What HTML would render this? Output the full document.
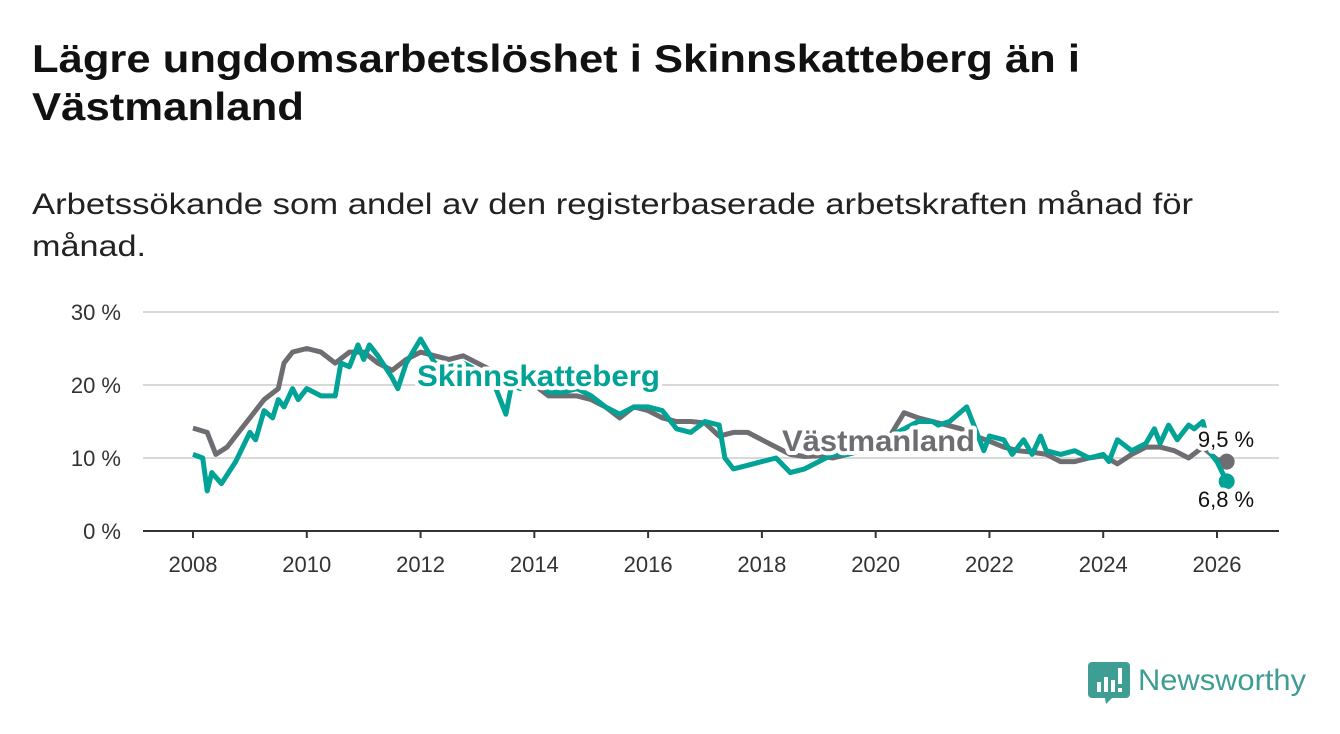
<!DOCTYPE html>
<html><head><meta charset="utf-8"><style>
html,body{margin:0;padding:0;background:#fff;}
svg{display:block;font-family:"Liberation Sans",sans-serif;}
.halo{paint-order:stroke;stroke:#fff;stroke-width:8px;stroke-linejoin:round;}
</style></head><body>
<svg id="chart" width="1340" height="734" viewBox="0 0 1340 734">
<text x="32" y="72" font-size="39" font-weight="bold" fill="#111" textLength="1048" lengthAdjust="spacingAndGlyphs">Lägre ungdomsarbetslöshet i Skinnskatteberg än i</text>
<text x="32" y="120" font-size="39" font-weight="bold" fill="#111" textLength="272" lengthAdjust="spacingAndGlyphs">Västmanland</text>
<text x="32" y="214" font-size="30" fill="#222" textLength="1161" lengthAdjust="spacingAndGlyphs">Arbetssökande som andel av den registerbaserade arbetskraften månad för</text>
<text x="32" y="256" font-size="30" fill="#222" textLength="114" lengthAdjust="spacingAndGlyphs">månad.</text>
<g id="grid"></g>
<g id="axes"></g>
<g id="series"></g>
<g id="labels"></g>
<g>
<path d="M1092 662 h34 a4 4 0 0 1 4 4 v28 a4 4 0 0 1 -4 4 h-14 l-6 6 l-1 -6 h-13 a4 4 0 0 1 -4 -4 v-28 a4 4 0 0 1 4 -4z" fill="#3e9e94"/>
<rect x="1097" y="682" width="4" height="10" fill="#fff"/><rect x="1104" y="677" width="4" height="15" fill="#fff"/><rect x="1111" y="680" width="4" height="12" fill="#fff"/><rect x="1118" y="668" width="4" height="16" fill="#fff"/><rect x="1118" y="688" width="4" height="4" fill="#fff"/>
<text x="1138" y="690" font-size="30" fill="#3e9e94" textLength="168" lengthAdjust="spacingAndGlyphs">Newsworthy</text>
</g>
</svg>
<script>
const yTicks=[0,10,20,30];
const yTickLabels=["0 %","10 %","20 %","30 %"];
const xTicks=[2008,2010,2012,2014,2016,2018,2020,2022,2024,2026];
const vastDates=[2008,2008.25,2008.4,2008.6,2008.8,2009,2009.25,2009.5,2009.6,2009.75,2010,2010.25,2010.5,2010.75,2011,2011.25,2011.5,2011.75,2012,2012.25,2012.5,2012.75,2013,2013.25,2013.5,2013.75,2014,2014.25,2014.5,2014.75,2015,2015.25,2015.5,2015.75,2016,2016.25,2016.5,2016.75,2017,2017.25,2017.5,2017.75,2018,2018.25,2018.5,2018.75,2019,2019.25,2019.5,2019.75,2020,2020.25,2020.5,2020.75,2021,2021.25,2021.5,2021.75,2022,2022.25,2022.5,2022.75,2023,2023.25,2023.5,2023.75,2024,2024.25,2024.5,2024.75,2025,2025.25,2025.5,2025.75,2026,2026.17];
const vastValues=[14.1,13.5,10.5,11.5,13.5,15.5,18,19.5,23,24.5,25,24.5,23,24.5,24.5,23,22,23.5,24.5,24,23.5,24,23,22,21,20.5,20,18.5,18.5,18.5,18,17,15.5,17,16.5,15.5,15,15,14.8,13,13.5,13.5,12.5,11.5,10.5,10.2,10.3,10,10.5,11,12,13,16.2,15.5,15,14.5,14,13,12.3,11.5,11,10.8,10.5,9.5,9.5,10,10.3,9.2,10.5,11.5,11.5,11,10,11.5,9.8,9.5];
const skinDates=[2008,2008.17,2008.25,2008.33,2008.5,2008.75,2009,2009.1,2009.25,2009.4,2009.5,2009.6,2009.75,2009.85,2010,2010.25,2010.5,2010.6,2010.75,2010.9,2011,2011.1,2011.25,2011.5,2011.6,2011.75,2011.9,2012,2012.25,2012.5,2012.75,2013,2013.25,2013.5,2013.6,2013.75,2014,2014.25,2014.5,2014.75,2015,2015.25,2015.5,2015.75,2016,2016.25,2016.5,2016.75,2017,2017.25,2017.35,2017.5,2017.75,2018,2018.25,2018.5,2018.75,2019,2019.25,2019.5,2019.75,2020,2020.25,2020.5,2020.75,2021,2021.1,2021.3,2021.6,2021.9,2022,2022.25,2022.4,2022.6,2022.75,2022.9,2023,2023.25,2023.5,2023.75,2024,2024.1,2024.25,2024.5,2024.75,2024.9,2025,2025.15,2025.3,2025.5,2025.6,2025.75,2025.9,2026,2026.17];
const skinValues=[10.5,10,5.5,8,6.5,9.5,13.5,12.5,16.5,15.5,18,17,19.5,18,19.5,18.5,18.5,23,22.5,25.5,23.5,25.5,24,21,19.5,23,25,26.3,23,22.5,23,22,21,16,20,19.5,21,19,19,19.5,18.5,17,16,17,17,16.5,14,13.5,15,14.5,10,8.5,9,9.5,10,8,8.5,9.5,10.5,10.5,11,12,13,14,15,15,14.5,15,17,11,13,12.5,10.5,12.5,10.5,13,11,10.5,11,10,10.5,9.5,12.5,11,12,14,12,14.5,12.5,14.5,14,15,10.5,9.5,6.8];
const NS="http://www.w3.org/2000/svg";
const X0=193,X1=1217,Y0=531,Y30=312;
function xs(d){return X0+(d-2008)*(X1-X0)/18;}
function ys(v){return Y0-v*(Y0-Y30)/30;}
function mk(t,a,p){const e=document.createElementNS(NS,t);for(const k in a)e.setAttribute(k,a[k]);p.appendChild(e);return e;}
const grid=document.getElementById('grid'),axes=document.getElementById('axes'),ser=document.getElementById('series'),lab=document.getElementById('labels');
yTicks.forEach((v,i)=>{
 if(v>0){const l=mk('line',{x1:143,x2:1279,y1:ys(v),y2:ys(v),stroke:'#d9d9d9','stroke-width':2},grid);
 
 }
 const t=mk('text',{x:121,y:ys(v)+8,'font-size':22,fill:'#333','text-anchor':'end'},axes);t.textContent=yTickLabels[i];
 
 
});
const ax=mk('line',{x1:143,x2:1279,y1:Y0,y2:Y0,stroke:'#333','stroke-width':2},axes);


xTicks.forEach(d=>{
 mk('line',{x1:xs(d),x2:xs(d),y1:Y0,y2:Y0+7,stroke:'#333','stroke-width':2},axes);
 const t=mk('text',{x:xs(d),y:572,'font-size':22,fill:'#333','text-anchor':'middle'},axes);t.textContent=d;
 
 
});
function line(dates,vals,col,name){
 const p=mk('path',{d:dates.map((d,i)=>(i?'L':'M')+xs(d).toFixed(1)+' '+ys(vals[i]).toFixed(1)).join(''),fill:'none',stroke:col,'stroke-width':5,'stroke-linejoin':'round'},ser);
 
 
 const n=dates.length-1;
 const c=mk('circle',{cx:xs(dates[n]),cy:ys(vals[n]),r:8,fill:col},ser);
 
 
}
line(vastDates,vastValues,'#6e6d72','vastmanland-line');
line(skinDates,skinValues,'#00a396','skinnskatteberg-line');
function label(x,y,txt,col,size,bold,name,anchor,len){
 const t=mk('text',{x:x,y:y,'font-size':size,fill:col,'font-weight':bold?'bold':'normal',class:'halo','text-anchor':anchor||'start'},lab);t.textContent=txt;
 if(len){t.setAttribute('textLength',len);t.setAttribute('lengthAdjust','spacingAndGlyphs');}
 
 
}
label(417,386,'Skinnskatteberg','#00a396',30,true,'skinnskatteberg-label','start',243);
label(782,451,'Västmanland','#6e6d72',30,true,'vastmanland-label','start',193);
label(1226,447,'9,5 %','#111',22,false,'vastmanland-value','middle');
label(1226,507,'6,8 %','#111',22,false,'skinnskatteberg-value','middle');
</script>
</body></html>
